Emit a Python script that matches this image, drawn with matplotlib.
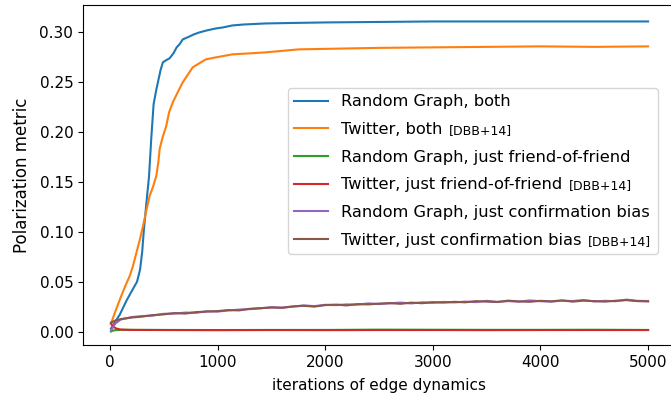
import numpy as np
import matplotlib.pyplot as plt
from matplotlib.offsetbox import TextArea, HPacker

# Random Graph, both
rg_both_x = [10, 50, 92, 154, 200, 252, 280, 300, 314, 340, 363, 385, 406, 430, 446, 470, 492,
             520, 554, 590, 620, 646, 677, 720, 780, 831, 900, 985, 1050, 1138, 1250, 1446,
             1700, 2000, 2500, 3000, 3500, 4000, 4500, 5000]
rg_both_y = [0.003, 0.010, 0.017, 0.031, 0.040, 0.050, 0.062, 0.080, 0.100, 0.130, 0.155, 0.195,
             0.228, 0.242, 0.250, 0.262, 0.270, 0.272, 0.274, 0.279, 0.285, 0.288, 0.293, 0.295,
             0.298, 0.300, 0.302, 0.304, 0.305, 0.307, 0.308, 0.309, 0.3095, 0.310, 0.3105,
             0.311, 0.311, 0.311, 0.311, 0.311]

# Twitter, both
tw_both_x = [10, 50, 92, 140, 185, 215, 246, 280, 308, 340, 369, 400, 431, 450, 462, 490, 523,
             550, 585, 630, 677, 720, 769, 830, 892, 985, 1138, 1300, 1446, 1754, 2000, 2500,
             3000, 3500, 4000, 4500, 5000]
tw_both_y = [0.008, 0.020, 0.032, 0.045, 0.056, 0.066, 0.079, 0.093, 0.106, 0.122, 0.136, 0.145,
             0.156, 0.170, 0.183, 0.195, 0.206, 0.220, 0.230, 0.240, 0.250, 0.257, 0.265, 0.269,
             0.273, 0.275, 0.278, 0.279, 0.280, 0.283, 0.2835, 0.2845, 0.285, 0.2855, 0.286,
             0.2855, 0.286]

# Random Graph / Twitter, just friend-of-friend
fof_x = [10, 30, 60, 100, 200, 500, 1000, 1500, 2000, 2500, 3000, 3500, 4000, 4500, 5000]
rg_fof_y = [0.000, 0.001, 0.0015, 0.0017, 0.0017, 0.0016, 0.0015, 0.0016, 0.0016, 0.0019,
            0.0018, 0.0017, 0.0017, 0.0018, 0.0016]
tw_fof_y = [0.008, 0.005, 0.003, 0.002, 0.0016, 0.0015, 0.0014, 0.0015, 0.0014, 0.0015,
            0.0015, 0.0014, 0.0015, 0.0015, 0.0015]

# Random Graph / Twitter, just confirmation bias
cb_x = [10, 50] + list(range(100, 5001, 100))
rg_cb_y = [0.001, 0.008,
           0.0120, 0.0145, 0.0155, 0.0160, 0.0178, 0.0180, 0.0190, 0.0188, 0.0203, 0.0200,
           0.0212, 0.0220, 0.0225, 0.0232, 0.0245, 0.0240, 0.0250, 0.0262, 0.0255, 0.0268,
           0.0265, 0.0272, 0.0270, 0.0282, 0.0276, 0.0283, 0.0290, 0.0282, 0.0293, 0.0288,
           0.0297, 0.0292, 0.0300, 0.0295, 0.0308, 0.0298, 0.0305, 0.0300, 0.0312, 0.0304,
           0.0300, 0.0310, 0.0306, 0.0316, 0.0302, 0.0308, 0.0304, 0.0320, 0.0308, 0.0306]
tw_cb_y = [0.009, 0.011,
           0.0125, 0.0140, 0.0150, 0.0165, 0.0172, 0.0185, 0.0180, 0.0195, 0.0200, 0.0205,
           0.0215, 0.0212, 0.0228, 0.0235, 0.0240, 0.0238, 0.0252, 0.0258, 0.0250, 0.0265,
           0.0270, 0.0262, 0.0275, 0.0272, 0.0280, 0.0285, 0.0278, 0.0290, 0.0284, 0.0295,
           0.0290, 0.0298, 0.0293, 0.0305, 0.0300, 0.0296, 0.0310, 0.0302, 0.0298, 0.0308,
           0.0303, 0.0312, 0.0300, 0.0310, 0.0305, 0.0300, 0.0309, 0.0315, 0.0305, 0.0302]

labels = ["Random Graph, both", "Twitter, both",
          "Random Graph, just friend-of-friend", "Twitter, just friend-of-friend",
          "Random Graph, just confirmation bias", "Twitter, just confirmation bias"]
cited = [False, True, False, True, False, True]

fig = plt.figure(figsize=(6.71, 3.95), dpi=100)
ax = fig.add_axes([83 / 671, 50 / 395, 592 / 671, 340 / 395])

ax.plot(rg_both_x, rg_both_y, color='C0', lw=1.5)
ax.plot(tw_both_x, tw_both_y, color='C1', lw=1.5)
ax.plot(fof_x, rg_fof_y, color='C2', lw=1.5)
ax.plot(fof_x, tw_fof_y, color='C3', lw=1.5)
ax.plot(cb_x, rg_cb_y, color='C4', lw=1.5)
ax.plot(cb_x, tw_cb_y, color='C5', lw=1.5)

ax.set_xlim(-250, 5250)
ax.set_ylim(-0.0135, 0.3275)
ax.set_xlabel('iterations of edge dynamics', fontsize=11, labelpad=6)
ax.set_ylabel('Polarization metric', fontsize=12, labelpad=6)
ax.tick_params(labelsize=11)

leg = ax.legend(labels, loc='upper left', bbox_to_anchor=(0.346, 0.756),
                borderaxespad=0, fontsize=11.7, labelspacing=0.78, handlelength=2.1,
                handletextpad=0.75)

# citation tag in a smaller font, packed right after the Twitter labels
rows = leg._legend_handle_box.get_children()[0].get_children()
for row, c in zip(rows, cited):
    if c:
        tag = TextArea('[DBB+14]', textprops=dict(fontsize=9))
        packed = HPacker(children=[row.get_children()[1], tag], sep=5, pad=0,
                         align='baseline')
        packed.set_figure(fig)
        row.get_children()[1] = packed

fig.savefig('out.png', dpi=100)
